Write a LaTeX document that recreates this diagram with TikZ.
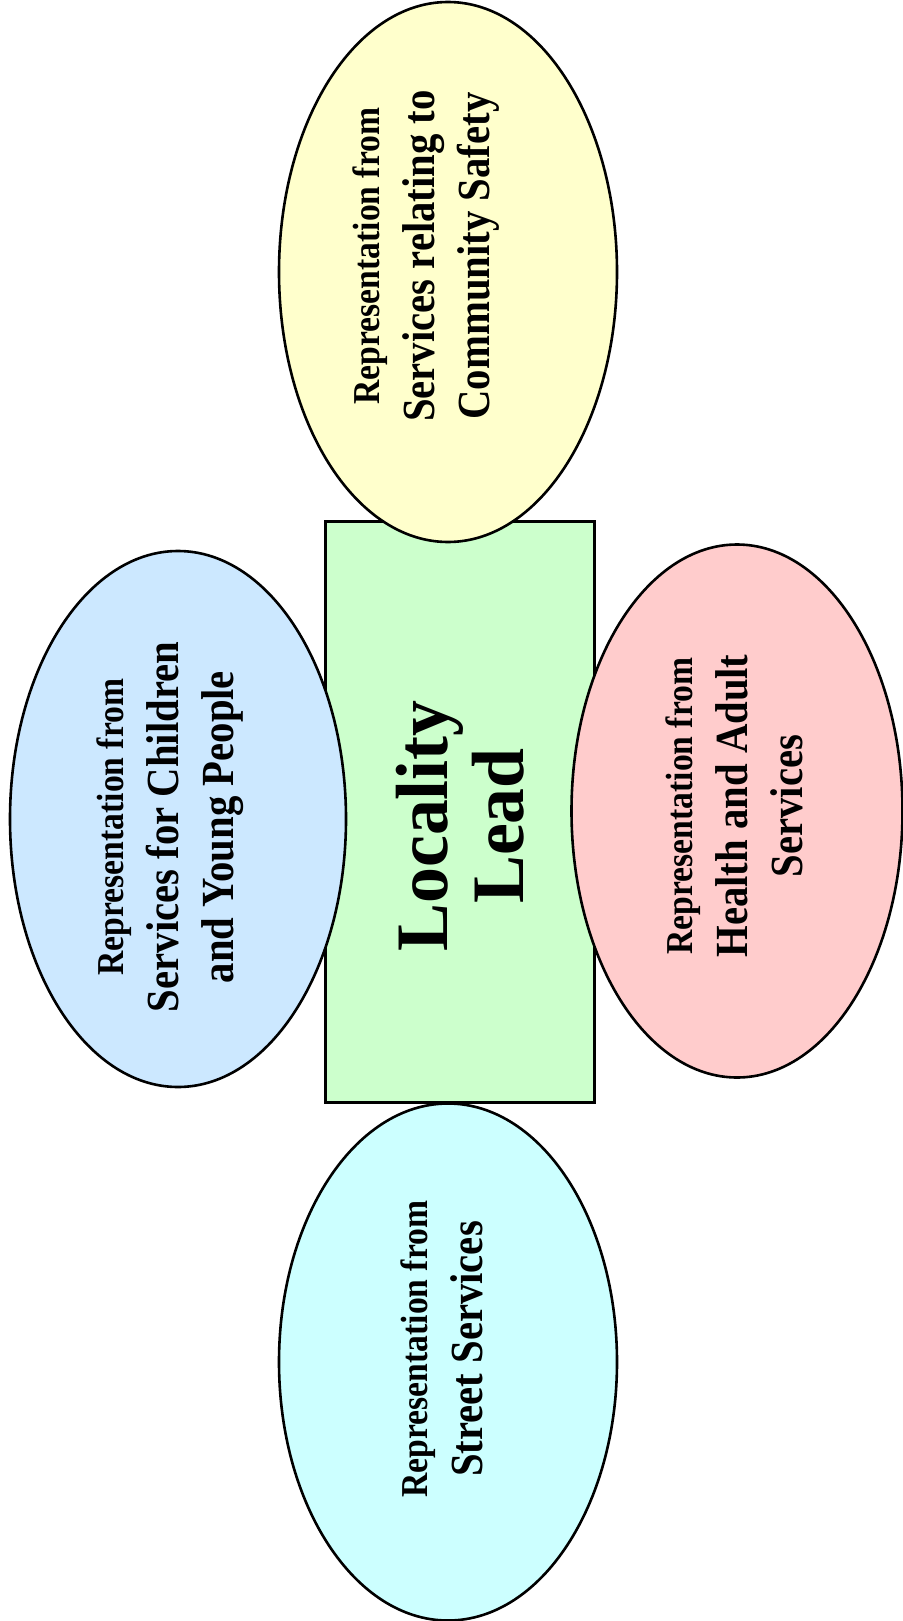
\documentclass[tikz,border=0pt]{standalone}
\usepackage{fontspec}
\setmainfont{Liberation Serif}[FakeStretch=0.97]
\newfontfamily\groupfont{Liberation Serif}[FakeStretch=0.885]
\usetikzlibrary{shapes.geometric}

\definecolor{safetyfill}{HTML}{FFFFCC}
\definecolor{childfill}{HTML}{CCE8FF}
\definecolor{leadfill}{HTML}{CCFFCC}
\definecolor{healthfill}{HTML}{FFCCCC}
\definecolor{streetfill}{HTML}{CCFFFF}
\newcommand\repline{\fontsize{38}{55}\selectfont}

\begin{document}
\begin{tikzpicture}[x=1pt,y=-1pt,
	group/.style={ellipse, draw, line width=2.6pt, rotate=90, inner sep=0pt},
	words/.style={rotate=90, align=center, inner sep=0pt, font=\groupfont\bfseries\fontsize{46}{55}\selectfont}]
\useasboundingbox (0,0) rectangle (902,1621);
\node [draw, line width=2.6pt, fill=leadfill, rotate=90, minimum width=581pt, minimum height=269pt] (lead) at (460,812) {};
\node [group, fill=safetyfill, minimum width=540pt, minimum height=338pt] (safety) at (448,272) {};
\node [group, fill=childfill, minimum width=536pt, minimum height=336pt] (child) at (178,819) {};
\node [group, fill=healthfill, minimum width=533pt, minimum height=331pt] (health) at (737,811) {};
\node [group, fill=streetfill, minimum width=517pt, minimum height=338pt] (street) at (448,1362) {};
% texts
\node [words, font=\bfseries\fontsize{74}{76}\selectfont] (leadtext) at ([shift={(0,14)}]lead.center) {Locality\\Lead};
\node [words] (safetytext) at ([shift={(-22,-16)}]safety.center) {{\repline Representation from}\\Services relating to\\Community Safety};
\node [words] (childtext) at ([shift={(-8,8)}]child.center) {{\repline Representation from}\\Services for Children\\and Young People};
\node [words] (healthtext) at ([shift={(-3,-5)}]health.center) {{\repline Representation from}\\Health and Adult\\Services};
\node [words] (streettext) at ([shift={(-6,-13)}]street.center) {{\repline Representation from}\\Street Services};
\end{tikzpicture}
\end{document}
